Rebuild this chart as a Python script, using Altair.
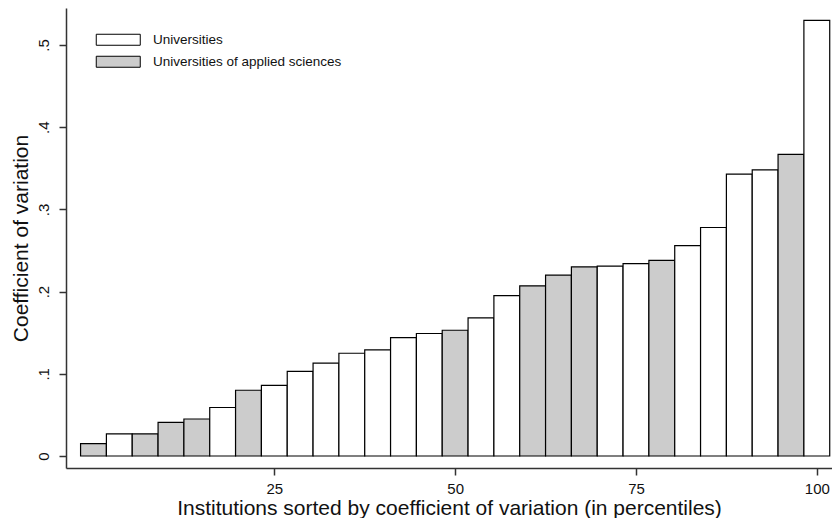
import altair as alt
import pandas as pd

# Data
cv_values = [0.015, 0.027, 0.027, 0.041, 0.045, 0.059, 0.080, 0.086, 0.103, 0.113,
             0.125, 0.129, 0.144, 0.149, 0.153, 0.168, 0.195, 0.207, 0.220, 0.230,
             0.231, 0.234, 0.238, 0.256, 0.278, 0.343, 0.348, 0.367, 0.530]
types = ["UAS", "U", "UAS", "UAS", "UAS", "U", "UAS", "U", "U", "U",
         "U", "U", "U", "U", "UAS", "U", "U", "UAS", "UAS", "UAS",
         "U", "U", "UAS", "U", "U", "U", "U", "UAS", "U"]
type_labels = {"U": "Universities", "UAS": "Universities of applied sciences"}
x_ticks = [25, 50, 75, 100]
y_ticks = [0, 0.1, 0.2, 0.3, 0.4, 0.5]

n = len(cv_values)
df = pd.DataFrame({
    "rank": list(range(n)),
    "cv": cv_values,
    "type": [type_labels[t] for t in types],
})

FONT = "Liberation Sans"

chart = alt.Chart(df).transform_calculate(
    pct=f"datum.rank * 100 / {n - 1}",
).transform_calculate(
    x0=f"datum.pct - 50 / {n - 1}",
    x1=f"datum.pct + 50 / {n - 1}",
).mark_bar(stroke="black", strokeWidth=1.2).encode(
    x=alt.X("x0:Q",
            scale=alt.Scale(domain=[-3.8, 102.1], nice=False, zero=False),
            axis=alt.Axis(values=x_ticks, title="Institutions sorted by coefficient of variation (in percentiles)",
                          grid=False, labelFontSize=15, titleFontSize=21, labelPadding=6,
                          titlePadding=1, format="d")),
    x2="x1:Q",
    y=alt.Y("cv:Q",
            scale=alt.Scale(domain=[-0.0146, 0.545], nice=False, zero=False),
            axis=alt.Axis(values=y_ticks, title="Coefficient of variation", grid=False,
                          labelFontSize=15, titleFontSize=21, labelAngle=270,
                          labelAlign="center", labelBaseline="bottom", labelPadding=8,
                          titlePadding=5,
                          labelExpr="datum.value == 0 ? '0' : replace(format(datum.value, '.1f'), '0.', '.')")),
    y2=alt.datum(0),
    fill=alt.Fill("type:N",
                  scale=alt.Scale(domain=["Universities", "Universities of applied sciences"],
                                  range=["#ffffff", "#cccccc"]),
                  legend=alt.Legend(orient="none", legendX=29, legendY=25, title=None,
                                    symbolType="M-4,-1H4V1H-4Z", symbolSize=121,
                                    symbolOffset=16.5,
                                    symbolStrokeColor="black", symbolStrokeWidth=1,
                                    labelFont=FONT, labelFontSize=13.5, labelOffset=28,
                                    labelLimit=400,
                                    rowPadding=6, padding=0, labelColor="#111")),
).properties(
    width=766,
    height=460,
    autosize=alt.AutoSizeParams(type="none"),
    padding={"left": 58, "top": 0, "right": 0, "bottom": 50},
).configure_view(
    stroke=None,
).configure_axis(
    labelFont=FONT, titleFont=FONT, labelColor="#111", titleColor="#111",
    domainColor="#333", domainWidth=1.5, tickColor="#333", tickWidth=1.5, tickSize=7,
    titleFontWeight="normal",
)

chart.save("out.html", embed_options={"renderer": "svg", "actions": False})
